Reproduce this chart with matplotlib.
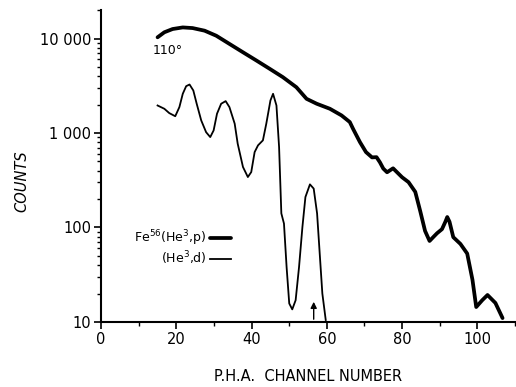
import numpy as np
import matplotlib
matplotlib.use('Agg')
import matplotlib.pyplot as plt
from matplotlib.ticker import FixedLocator, LogLocator, NullFormatter, MultipleLocator

# Fe56(He3,p) spectrum at 110 deg (thick curve)
p_chan = [15.0, 16.8, 19.0, 21.7, 24.3, 27.5, 30.6, 34.1, 37.7, 41.3, 44.8, 48.3,
          51.9, 54.6, 57.3, 60.8, 63.9, 66.1, 67.0, 68.8, 70.4, 72.0, 73.2, 74.1,
          75.0, 76.0, 77.6, 78.6, 80.0, 81.7, 83.5, 84.8, 86.1, 87.3, 88.4, 89.3,
          90.6, 91.5, 92.0, 92.6, 93.6, 95.5, 97.3, 98.7, 99.7, 101.3, 102.7, 104.8, 106.7]
p_counts = [10300, 11640, 12600, 13100, 12900, 12100, 10700, 8770, 7150, 5840, 4780, 3900,
            3050, 2300, 2040, 1805, 1535, 1305, 1100, 800, 628, 552, 555, 490,
            420, 384, 423, 386, 340, 302, 238, 150, 92, 72, 80, 87,
            96, 115, 129, 115, 79, 67, 53, 28, 14.4, 17, 19.3, 15.9, 11]

# (He3,d) spectrum (thin curve)
d_chan = [15.0, 16.8, 18.1, 19.7, 20.8, 21.7, 22.6, 23.5, 24.5, 25.4, 26.6, 27.9,
          29.0, 29.9, 30.8, 31.9, 33.1, 34.1, 35.5, 36.3, 37.7, 39.0, 39.9, 40.8,
          41.7, 43.0, 43.9, 45.0, 45.7, 46.6, 47.3, 47.9, 48.6, 49.3, 50.0, 50.8,
          51.7, 52.6, 53.5, 54.3, 55.5, 56.5, 57.4, 58.1, 58.8, 59.7]
d_counts = [1955, 1805, 1625, 1505, 1880, 2600, 3130, 3260, 2820, 2040, 1360, 1020,
            905, 1065, 1600, 2040, 2175, 1880, 1255, 770, 437, 342, 386, 628,
            740, 836, 1255, 2210, 2600, 1955, 710, 141, 110, 38, 15.7, 13.6,
            17, 38, 101, 210, 286, 258, 141, 53, 20, 10.5]

ytick_vals = [10, 100, 1000, 10000]
ytick_labels = ['10', '100', '1 000', '10 000']
arrow_chan = 56.5

fig = plt.figure(figsize=(5.16, 3.87), dpi=100)
ax = fig.add_axes([0.196, 0.168, 0.802, 0.806])

ax.plot(p_chan, p_counts, color='black', lw=2.7, solid_capstyle='round',
        solid_joinstyle='round', label='Fe$^{56}$(He$^3$,p)')
ax.plot(d_chan, d_counts, color='black', lw=1.3, solid_joinstyle='round',
        label='(He$^3$,d)')

ax.set_yscale('log')
ax.set_xlim(0, 110)
ax.set_ylim(10, 20000)

ax.yaxis.set_major_locator(FixedLocator(ytick_vals))
ax.set_yticklabels(ytick_labels)
ax.yaxis.set_minor_locator(LogLocator(base=10, subs=np.arange(2, 10)))
ax.yaxis.set_minor_formatter(NullFormatter())
ax.xaxis.set_major_locator(MultipleLocator(20))
ax.xaxis.set_minor_locator(MultipleLocator(10))

for s in ['top', 'right']:
    ax.spines[s].set_visible(False)
for s in ['left', 'bottom']:
    ax.spines[s].set_linewidth(1.5)

ax.tick_params(axis='both', which='major', direction='out', length=5, width=1.2,
               labelsize=10.5, pad=2)
ax.tick_params(axis='both', which='minor', direction='out', length=3, width=1)

ax.text(13.6, 7400, '110°', fontsize=9, ha='left', va='center')

ax.annotate('', xy=(arrow_chan, 17.5), xytext=(arrow_chan, 10),
            arrowprops=dict(arrowstyle='-|>', color='black', lw=1,
                            mutation_scale=9))

ax.legend(loc='center right', bbox_to_anchor=(0.315, 0.237), frameon=False,
          markerfirst=False, fontsize=9, handlelength=1.7, handletextpad=0.3,
          labelspacing=0.1, borderpad=0, borderaxespad=0)

ax.set_xlabel('P.H.A.  CHANNEL NUMBER', fontsize=10.5, labelpad=16)
fig.text(0.043, 0.532, 'COUNTS', rotation=90, fontsize=10.5, style='italic',
         ha='center', va='center')

fig.savefig('out.png', dpi=100)
